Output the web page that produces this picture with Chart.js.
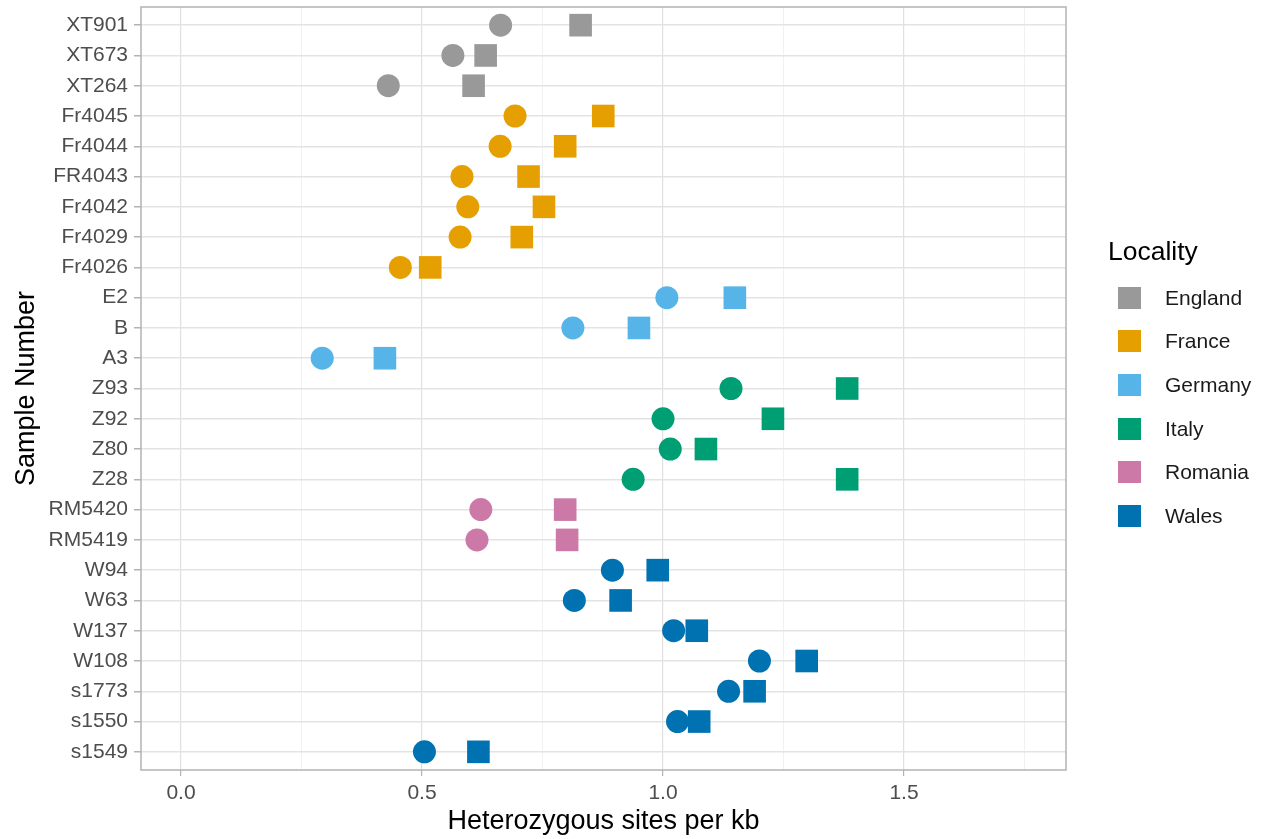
<!DOCTYPE html>
<html>
<head>
<meta charset="utf-8">
<title>Heterozygous sites per kb</title>
<script src="https://cdn.jsdelivr.net/npm/chart.js@4.4.1/dist/chart.umd.min.js"></script>
<style>
    html, body {
        margin: 0;
        padding: 0;
        background: #ffffff;
        font-family: "Liberation Sans", Arial, sans-serif;
    }
    #wrap {
        position: relative;
        width: 1268px;
        height: 839px;
    }
    #legend {
        position: absolute;
        left: 1108px;
        top: 234px;
        color: #000000;
    }
    #legend .title {
        font-size: 26.5px;
        line-height: 34px;
        margin-bottom: 8px;
    }
    #legend .item {
        display: flex;
        align-items: center;
        height: 43.6px;
        font-size: 21px;
        color: #1a1a1a;
    }
    #legend .key {
        width: 23px;
        height: 22px;
        margin-left: 10px;
        margin-right: 24px;
    }
</style>
</head>
<body>
<div id="wrap">
    <canvas id="dotChart" width="1268" height="839"></canvas>
    <div id="legend"></div>
</div>

<script>
/* ===============================
   DATA
=============================== */

// samples, top to bottom
const samples = [
    "XT901", "XT673", "XT264",
    "Fr4045", "Fr4044", "FR4043", "Fr4042", "Fr4029", "Fr4026",
    "E2", "B", "A3",
    "Z93", "Z92", "Z80", "Z28",
    "RM5420", "RM5419",
    "W94", "W63", "W137", "W108", "s1773", "s1550", "s1549"
];

const sampleLocality = [
    "England", "England", "England",
    "France", "France", "France", "France", "France", "France",
    "Germany", "Germany", "Germany",
    "Italy", "Italy", "Italy", "Italy",
    "Romania", "Romania",
    "Wales", "Wales", "Wales", "Wales", "Wales", "Wales", "Wales"
];

// circle markers
const circleValues = [
    0.663, 0.564, 0.430,
    0.693, 0.662, 0.583, 0.595, 0.579, 0.455,
    1.008, 0.813, 0.293,
    1.141, 1.000, 1.015, 0.938,
    0.622, 0.614,
    0.895, 0.816, 1.022, 1.200, 1.136, 1.030, 0.505
];

// square markers
const squareValues = [
    0.829, 0.632, 0.607,
    0.876, 0.797, 0.721, 0.753, 0.707, 0.517,
    1.149, 0.950, 0.423,
    1.382, 1.228, 1.089, 1.382,
    0.797, 0.801,
    0.989, 0.912, 1.070, 1.298, 1.190, 1.075, 0.617
];

const localities = ["England", "France", "Germany", "Italy", "Romania", "Wales"];

const localityColors = ["#999999", "#E69F00", "#56B4E9", "#009E73", "#CC79A7", "#0072B2"];

const xMajorTicks = [0, 0.5, 1.0, 1.5];
const xMinorTicks = [0.25, 0.75, 1.25, 1.75];

/* ===============================
   DATASETS
=============================== */

function pointsFor(locality, values) {

    const points = [];

    samples.forEach((name, i) => {

        if (sampleLocality[i] === locality) {

            points.push({ x: values[i], y: i });

        }

    });

    return points;

}

const datasets = [];

localities.forEach((loc, k) => {

    datasets.push({
        label: loc,
        data: pointsFor(loc, circleValues),
        pointStyle: "circle",
        pointRadius: 11.5,
        pointHoverRadius: 11.5,
        backgroundColor: localityColors[k],
        borderColor: localityColors[k],
        borderWidth: 0
    });

    datasets.push({
        label: loc,
        data: pointsFor(loc, squareValues),
        pointStyle: "rect",
        pointRadius: 16,
        pointHoverRadius: 16,
        backgroundColor: localityColors[k],
        borderColor: localityColors[k],
        borderWidth: 0
    });

});

/* ===============================
   PANEL BORDER PLUGIN
=============================== */

const panelBorder = {

    id: "panelBorder",

    afterDatasetsDraw(chart) {

        const a = chart.chartArea;
        const ctx = chart.ctx;

        ctx.save();
        ctx.strokeStyle = "#B3B3B3";
        ctx.lineWidth = 1.5;
        ctx.strokeRect(a.left, a.top, a.right - a.left, a.bottom - a.top);
        ctx.restore();

    }

};

/* ===============================
   CHART
=============================== */

const tickFont = { family: "'Liberation Sans', Arial, sans-serif", size: 21 };
const titleFont = { family: "'Liberation Sans', Arial, sans-serif", size: 27 };

new Chart(document.getElementById("dotChart"), {

    type: "scatter",

    data: { datasets: datasets },

    plugins: [panelBorder],

    options: {

        responsive: false,
        animation: false,
        events: [],

        layout: {
            autoPadding: false,
            padding: { left: 0, right: 202, top: 7, bottom: 0 }
        },

        plugins: {
            legend: { display: false },
            tooltip: { enabled: false }
        },

        scales: {

            x: {
                type: "linear",
                min: -0.083,
                max: 1.836,
                afterBuildTicks: scale => {
                    scale.ticks = xMajorTicks.concat(xMinorTicks)
                        .sort((a, b) => a - b)
                        .map(v => ({ value: v }));
                },
                afterFit: scale => {
                    scale.height = 69;
                    scale.paddingLeft = 0;
                    scale.paddingRight = 0;
                },
                ticks: {
                    color: "#4D4D4D",
                    font: tickFont,
                    padding: 5,
                    maxRotation: 0,
                    autoSkip: false,
                    callback: v => xMajorTicks.includes(v) ? v.toFixed(1) : ""
                },
                grid: {
                    color: c => xMajorTicks.includes(c.tick.value) ? "#E0E0E0" : "#EEEEEE",
                    lineWidth: c => xMajorTicks.includes(c.tick.value) ? 1.2 : 0.8,
                    tickColor: c => xMajorTicks.includes(c.tick.value) ? "#B3B3B3" : "rgba(0,0,0,0)",
                    tickLength: 6
                },
                border: { display: false },
                title: {
                    display: true,
                    text: "Heterozygous sites per kb",
                    color: "#000000",
                    font: titleFont,
                    padding: { top: 0, bottom: 1 }
                }
            },

            y: {
                type: "linear",
                reverse: true,
                min: -0.6,
                max: samples.length - 0.4,
                afterBuildTicks: scale => {
                    scale.ticks = samples.map((s, i) => ({ value: i }));
                },
                afterFit: scale => {
                    scale.width = 141;
                    scale.paddingTop = 0;
                    scale.paddingBottom = 0;
                },
                ticks: {
                    color: "#4D4D4D",
                    font: tickFont,
                    padding: 6,
                    autoSkip: false,
                    callback: v => samples[v]
                },
                grid: {
                    color: "#E3E3E3",
                    lineWidth: 1.5,
                    tickColor: "#B3B3B3",
                    tickLength: 7
                },
                border: { display: false },
                title: {
                    display: true,
                    text: "Sample Number",
                    color: "#000000",
                    font: titleFont,
                    padding: { top: 10, bottom: 0 }
                }
            }

        }

    }

});

/* ===============================
   LEGEND
=============================== */

const legendBox = document.getElementById("legend");

let legendHtml = '<div class="title">Locality</div>';

localities.forEach((loc, k) => {

    legendHtml +=
        '<div class="item"><span class="key" style="background:' +
        localityColors[k] + '"></span>' + loc + '</div>';

});

legendBox.innerHTML = legendHtml;
</script>
</body>
</html>
